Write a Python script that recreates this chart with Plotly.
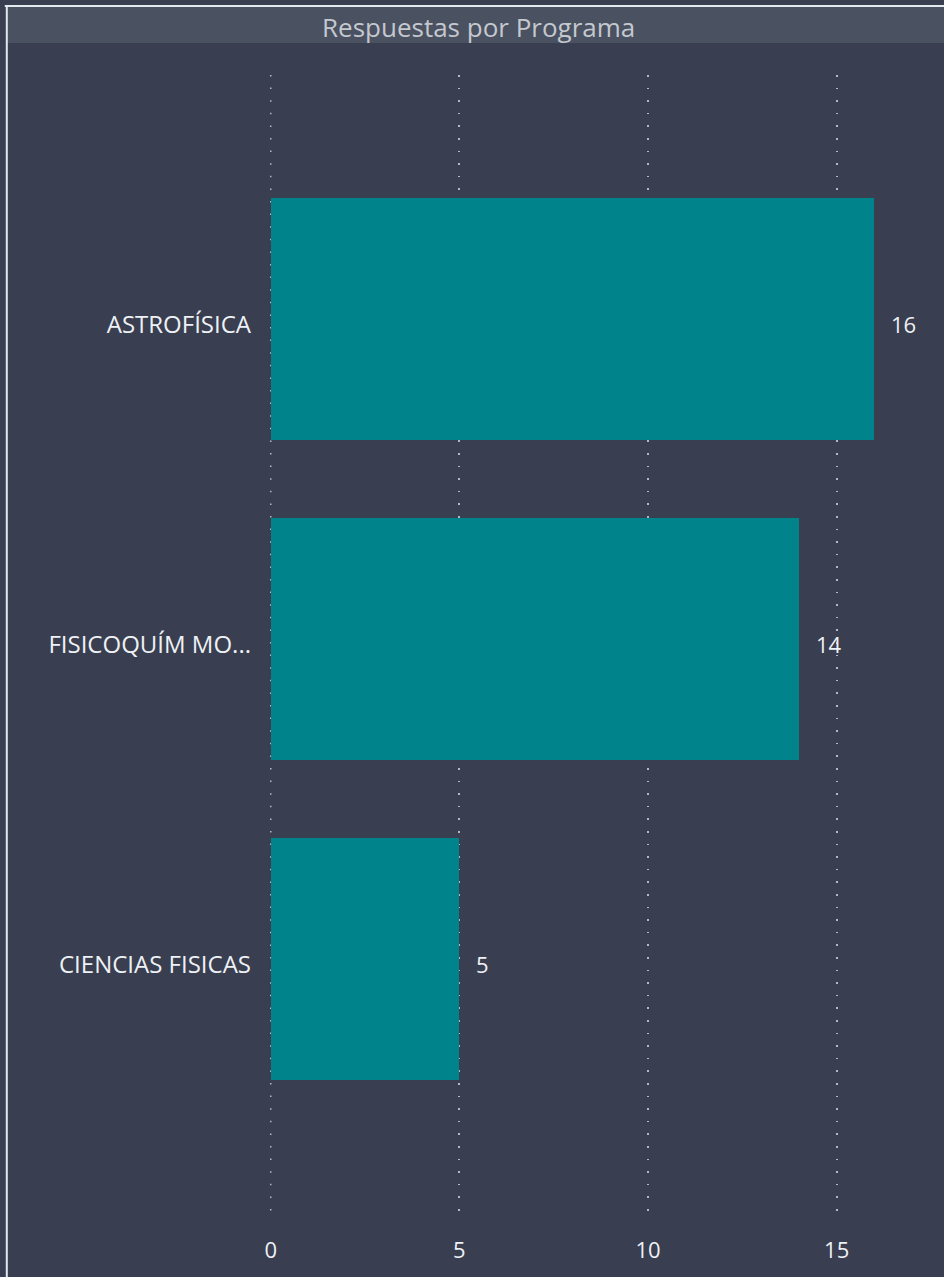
import plotly.graph_objects as go

categories = ["ASTROFÍSICA", "FISICOQUÍM MO...", "CIENCIAS FISICAS"]
values = [16, 14, 5]
tick_vals = [0, 5, 10, 15]
tick_text = ["0", "5", "10", "15"]
title_text = "Respuestas por Programa"

W, H = 944, 1277
T, B = 75, 57
XMIN, XMAX = -0.02, 17.5
px_per_unit = (837 - 271) / 15.0
plot_w = (XMAX - XMIN) * px_per_unit
L = 271 - (0 - XMIN) * px_per_unit
R = W - L - plot_w
plot_h = H - T - B

BG = "#393e50"
BAR = "#00838a"
TITLEBAR = "#4a5161"
BORDER = "#e4e8ee"
GRID = "#b4b8c0"
FONT = "Open Sans, Noto Sans, sans-serif"

fig = go.Figure()
fig.add_trace(go.Bar(
    x=values, y=categories, orientation="h",
    marker=dict(color=BAR, line=dict(width=0)),
    width=0.756, hoverinfo="x+y",
))

for c, v in zip(categories, values):
    fig.add_annotation(x=v, y=c, xref="x", yref="y", text=str(v),
                       showarrow=False, xanchor="left", yanchor="middle",
                       xshift=15, yshift=-5,
                       font=dict(family=FONT, size=22, color="#eef1f5"))

def px_to_paper_x(px):
    return (px - L) / plot_w

def px_to_paper_y(py):
    return 1 - (py - T) / plot_h

# zero gridline (dotted, like the others)
fig.add_shape(type="line", xref="x", yref="paper", layer="below",
              x0=tick_vals[0], x1=tick_vals[0], y0=1, y1=0,
              line=dict(color=GRID, width=1.5, dash="1.5px,11.1px"))

# title bar
fig.add_shape(type="rect", xref="paper", yref="paper", layer="below",
              x0=px_to_paper_x(7), x1=px_to_paper_x(W + 5),
              y0=px_to_paper_y(43), y1=px_to_paper_y(7),
              fillcolor=TITLEBAR, line=dict(width=0))
# borders
fig.add_shape(type="rect", xref="paper", yref="paper", layer="above",
              x0=px_to_paper_x(5), x1=px_to_paper_x(W + 5),
              y0=px_to_paper_y(7), y1=px_to_paper_y(5),
              fillcolor=BORDER, line=dict(width=0))
fig.add_shape(type="rect", xref="paper", yref="paper", layer="above",
              x0=px_to_paper_x(6), x1=px_to_paper_x(8),
              y0=px_to_paper_y(H + 5), y1=px_to_paper_y(5),
              fillcolor=BORDER, line=dict(width=0))

fig.add_annotation(text=title_text, xref="paper", yref="paper",
                   x=px_to_paper_x(479), y=px_to_paper_y(27),
                   xanchor="center", yanchor="middle", showarrow=False,
                   font=dict(family=FONT, size=26, color="#c4c8cf"))

fig.update_layout(
    width=W, height=H,
    margin=dict(l=L, r=R, t=T, b=B, pad=0),
    paper_bgcolor=BG, plot_bgcolor=BG,
    showlegend=False,
    bargap=0,
    font=dict(family=FONT, color="#eef1f5"),
)
fig.update_xaxes(
    range=[XMIN, XMAX], tickvals=tick_vals, ticktext=tick_text,
    showgrid=True, gridcolor=GRID, gridwidth=1.5, griddash="1.5px,11.1px",
    zeroline=False, showline=False, ticks="",
    tickfont=dict(family=FONT, size=22, color="#eef1f5"),
    ticklabelstandoff=15,
)
fig.update_yaxes(
    type="category", categoryorder="array", categoryarray=categories,
    range=[2.816, -0.7625], showgrid=False, zeroline=False, showline=False,
    ticks="", tickfont=dict(family=FONT, size=24, color="#eef1f5"),
    ticklabelstandoff=18, ticklabelshift=-6,
)

fig.write_html("out.html", config={"displayModeBar": False},
               post_script="document.body.style.margin='0';document.body.style.overflow='hidden';")
